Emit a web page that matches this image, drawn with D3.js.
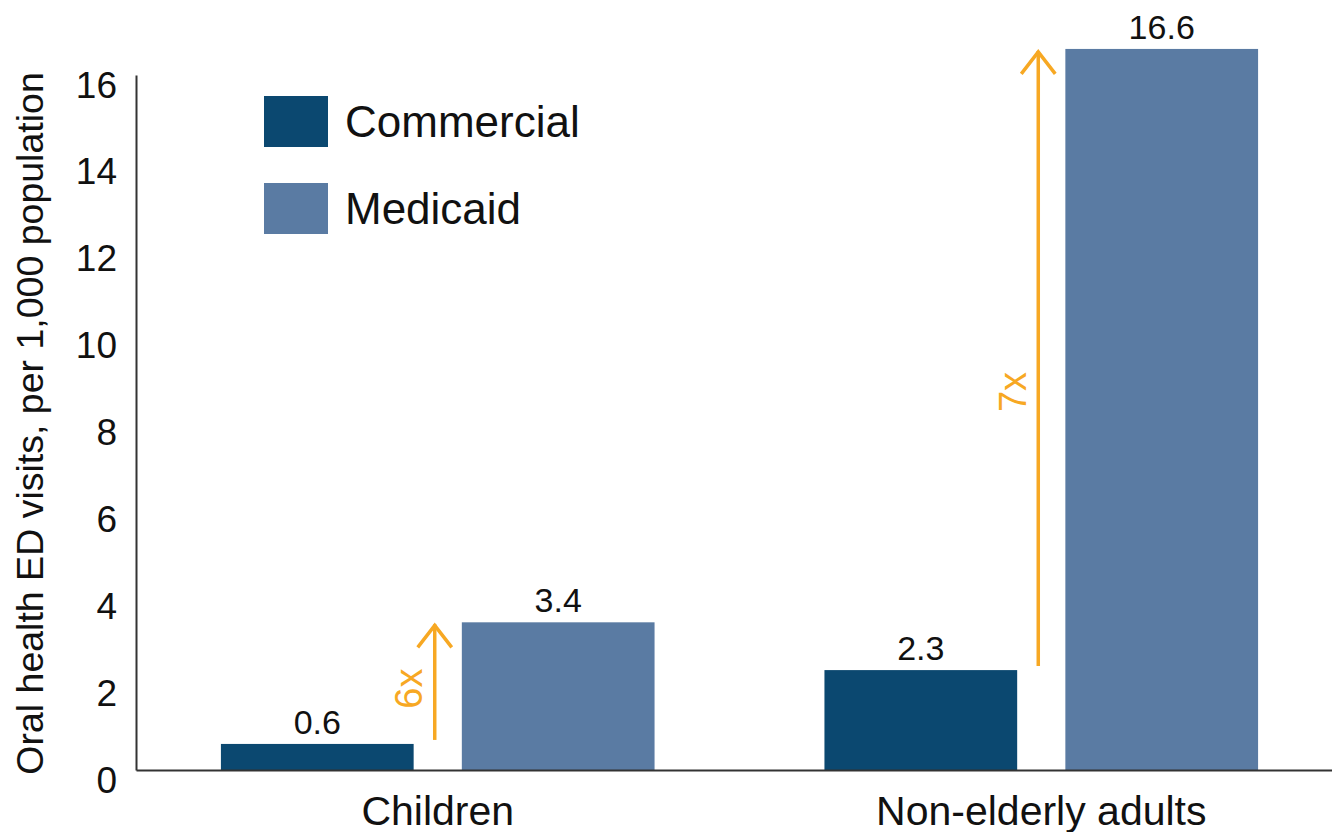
<!DOCTYPE html>
<html>
<head>
<meta charset="utf-8">
<script src="https://cdn.jsdelivr.net/npm/d3@7"></script>
<style>
  body { margin: 0; background: #fff; }
  svg text { font-family: "Liberation Sans", Arial, sans-serif; fill: #111; }
</style>
</head>
<body>
<div id="chart"></div>
<script>
// chart data
var groups = ["Children", "Non-elderly adults"];
var series = ["Commercial", "Medicaid"];
var commercial = [0.6, 2.3];
var medicaid = [3.4, 16.6];
var yTicks = [0, 2, 4, 6, 8, 10, 12, 14, 16];
var ratioLabels = ["6x", "7x"];

var width = 1332, height = 832;
var margin = {top: 75, right: -11, bottom: 62, left: 136};

var colors = {Commercial: "#0b4870", Medicaid: "#5a7ba3"};
var arrowColor = "#f7a823";

var rows = groups.map(function(g, i) {
  return {group: g, Commercial: commercial[i], Medicaid: medicaid[i]};
});

var svg = d3.select("#chart")
  .append("svg")
  .attr("width", width)
  .attr("height", height);

var x = d3.scaleBand()
  .domain(groups)
  .range([margin.left, width - margin.right])
  .paddingInner(0.2815)
  .paddingOuter(0.1407);

var xSub = d3.scaleBand()
  .domain(series)
  .range([0, x.bandwidth()])
  .paddingInner(0.2);

var y = d3.scaleLinear()
  .domain([0, 16])
  .range([height - margin.bottom, margin.top]);

// bars
var g = svg.append("g").selectAll("g")
  .data(rows)
  .enter().append("g")
  .attr("transform", function(d) { return "translate(" + x(d.group) + ",0)"; });

g.selectAll("rect")
  .data(function(d) { return series.map(function(s) { return {key: s, value: d[s]}; }); })
  .enter().append("rect")
  .attr("x", function(d) { return xSub(d.key); })
  .attr("y", function(d) { return y(d.value); })
  .attr("width", xSub.bandwidth())
  .attr("height", function(d) { return y(0) - y(d.value); })
  .attr("fill", function(d) { return colors[d.key]; });

g.selectAll("text.val")
  .data(function(d) { return series.map(function(s) { return {key: s, value: d[s]}; }); })
  .enter().append("text")
  .attr("class", "val")
  .attr("x", function(d) { return xSub(d.key) + xSub.bandwidth() / 2; })
  .attr("y", function(d) { return y(d.value) - 10; })
  .attr("text-anchor", "middle")
  .style("font-size", "34px")
  .text(function(d) { return d3.format(".1f")(d.value); });

// axes
var yAxis = svg.append("g")
  .attr("transform", "translate(" + margin.left + ",0)")
  .call(d3.axisLeft(y).tickValues(yTicks).tickSize(0).tickPadding(19));
yAxis.select(".domain").attr("stroke", "#333").attr("stroke-width", 2);
yAxis.selectAll("text")
  .attr("dy", null)
  .attr("y", 22)
  .style("font-size", "37px")
  .style("font-family", "'Liberation Sans', Arial, sans-serif")
  .attr("fill", "#111");

var xAxis = svg.append("g")
  .attr("transform", "translate(0," + y(0) + ")")
  .call(d3.axisBottom(x).tickSize(0).tickSizeOuter(0).tickPadding(0));
xAxis.select(".domain").attr("stroke", "#333").attr("stroke-width", 2);
xAxis.selectAll("text")
  .attr("dy", null)
  .attr("y", 55)
  .style("font-size", "41px")
  .style("font-family", "'Liberation Sans', Arial, sans-serif")
  .attr("fill", "#111");

// y axis title
svg.append("text")
  .attr("transform", "translate(43," + ((y(0) + y(16)) / 2 + 1) + ") rotate(-90)")
  .attr("text-anchor", "middle")
  .style("font-size", "37.5px")
  .text("Oral health ED visits, per 1,000 population");

// ratio arrows
var labelShift = [6, 33];
rows.forEach(function(d, i) {
  var ax = x(d.group) + xSub("Medicaid") - xSub.step() * 0.1 - 3;
  var y0 = y(d.Commercial) - 4;
  var y1 = y(d.Medicaid) + 3;
  var a = svg.append("g")
    .attr("stroke", arrowColor)
    .attr("stroke-width", 3.5)
    .attr("fill", "none");
  a.append("line")
    .attr("x1", ax).attr("x2", ax)
    .attr("y1", y0).attr("y2", y1 - 1);
  a.append("path")
    .attr("stroke-linejoin", "miter")
    .attr("d", d3.line()([[ax - 17, y1 + 22], [ax, y1], [ax + 17, y1 + 22]]));
  var ly = (y0 + y1) / 2 + labelShift[i];
  svg.append("text")
    .attr("transform", "translate(" + (ax - 26) + "," + ly + ") rotate(-90)")
    .attr("text-anchor", "middle")
    .attr("dy", "0.36em")
    .style("font-size", "38px")
    .style("fill", arrowColor)
    .text(ratioLabels[i]);
});

// legend
var legend = svg.append("g").selectAll("g")
  .data(series)
  .enter().append("g")
  .attr("transform", function(d, i) { return "translate(264," + (96 + i * 87) + ")"; });
legend.append("rect")
  .attr("width", 64)
  .attr("height", 51)
  .attr("fill", function(d) { return colors[d]; });
legend.append("text")
  .attr("x", 81)
  .attr("y", 41)
  .style("font-size", "44px")
  .text(function(d) { return d; });
</script>
</body>
</html>
